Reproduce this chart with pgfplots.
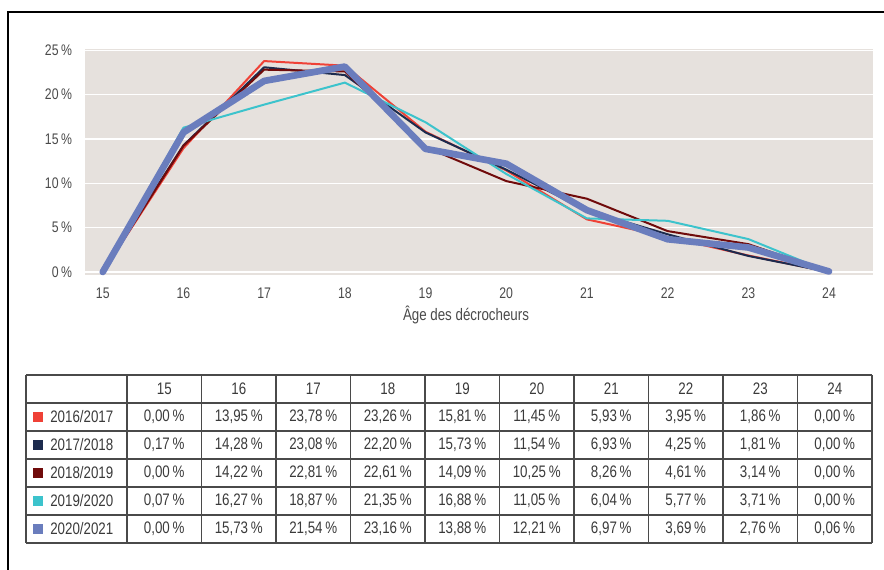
\documentclass[border=0pt]{standalone}
\usepackage{fontspec}
\setmainfont{Liberation Sans}[FakeStretch=0.8]
\usepackage{pgfplots}
\usepackage{pgfplotstable}
\pgfplotsset{compat=1.18}
\definecolor{cA}{HTML}{EF4136}
\definecolor{cB}{HTML}{1C2B4E}
\definecolor{cC}{HTML}{700B0B}
\definecolor{cD}{HTML}{3CC3CC}
\definecolor{cE}{HTML}{6A7DBD}
\definecolor{bg}{HTML}{E6E1DD}
\definecolor{txt}{HTML}{4A4A4A}
\definecolor{tbltxt}{HTML}{3A3A3A}
\definecolor{tblline}{HTML}{4A4A4A}

\pgfplotstableread{
age a b c d e
15 0.00 0.17 0.00 0.07 0.00
16 13.95 14.28 14.22 16.27 15.73
17 23.78 23.08 22.81 18.87 21.54
18 23.26 22.20 22.61 21.35 23.16
19 15.81 15.73 14.09 16.88 13.88
20 11.45 11.54 10.25 11.05 12.21
21 5.93 6.93 8.26 6.04 6.97
22 3.95 4.25 4.61 5.77 3.69
23 1.86 1.81 3.14 3.71 2.76
24 0.00 0.00 0.00 0.00 0.06
}\data

\begin{document}
\begin{tikzpicture}
\begin{scope}[x=0.75pt,y=-0.75pt]
\path[use as bounding box] (0,0) rectangle (884,570);
% frame
\draw[line width=1.5pt,black] (8,570) -- (8,12) -- (884,12);
% table grid
\foreach \k in {0,...,6} \draw[tblline,line width=0.8pt] (26,{375+28*\k}) -- (872,{375+28*\k});
\draw[tblline,line width=0.8pt] (26,375) -- (26,543);
\foreach \k in {0,...,10} \draw[tblline,line width=0.8pt] ({127+74.5*\k},375) -- ({127+74.5*\k},543);
\tikzset{tbl/.style={text=tbltxt,font=\fontsize{12.5}{14}\selectfont,inner sep=0pt}}
% header
\foreach \c [count=\i from 0] in {15,...,24}
  \node[tbl] at ({127+74.5*(\i+0.5)},389) {\c};
% legend column
\foreach \colr/\r in {cA/0,cB/1,cC/2,cD/3,cE/4}
  \fill[\colr] (33,{417+28*\r-5}) rectangle (43,{417+28*\r+5});
\node[tbl,anchor=west] at (50,417) {2016/2017};
\node[tbl,anchor=west] at (50,445) {2017/2018};
\node[tbl,anchor=west] at (50,473) {2018/2019};
\node[tbl,anchor=west] at (50,501) {2019/2020};
\node[tbl,anchor=west] at (50,529) {2020/2021};
% values
\foreach \s [count=\r from 0] in {a,b,c,d,e} {
  \foreach \i in {0,...,9} {
    \pgfplotstablegetelem{\i}{\s}\of\data
    \node[tbl] at ({127+74.5*(\i+0.5)},{417+28*\r}) {\pgfmathprintnumber[fixed,fixed zerofill,precision=2,use comma,assume math mode=true]{\pgfplotsretval}\,\%};
  }
}
\end{scope}

\begin{axis}[
  at={(63.75pt,-206.25pt)}, anchor=south west,
  scale only axis, width=591pt, height=169.5pt,
  xmin=14.78, xmax=24.545, ymin=-0.34, ymax=25.14,
  axis background/.style={fill=bg},
  axis line style={draw=none},
  tick style={draw=none},
  major tick length=0pt,
  xtick={15,16,...,24},
  ytick={0,5,10,15,20,25},
  yticklabels={0\,\%,5\,\%,10\,\%,15\,\%,20\,\%,25\,\%},
  ymajorgrids,
  grid style={white,line width=1pt},
  /pgf/number format/assume math mode=true,
  tick label style={font=\fontsize{11.5}{13}\selectfont,text=txt},
  xticklabel style={anchor=base,yshift=-17.5pt,inner sep=0pt},
  yticklabel style={anchor=east,xshift=-9.5pt,inner sep=0pt},
  xlabel={Âge des décrocheurs},
  xlabel style={at={(axis description cs:0.4835,0)},anchor=base,yshift=-34pt,inner sep=0pt,font=\fontsize{12.5}{14}\selectfont,text=txt},
  line join=round, line cap=round,
]
\addplot[cA,line width=1.5pt] table[x=age,y=a]{\data};
\addplot[cB,line width=1.5pt] table[x=age,y=b]{\data};
\addplot[cC,line width=1.5pt] table[x=age,y=c]{\data};
\addplot[cD,line width=1.5pt] table[x=age,y=d]{\data};
\addplot[cE,line width=5pt] table[x=age,y=e]{\data};
\end{axis}
\end{tikzpicture}
\end{document}
